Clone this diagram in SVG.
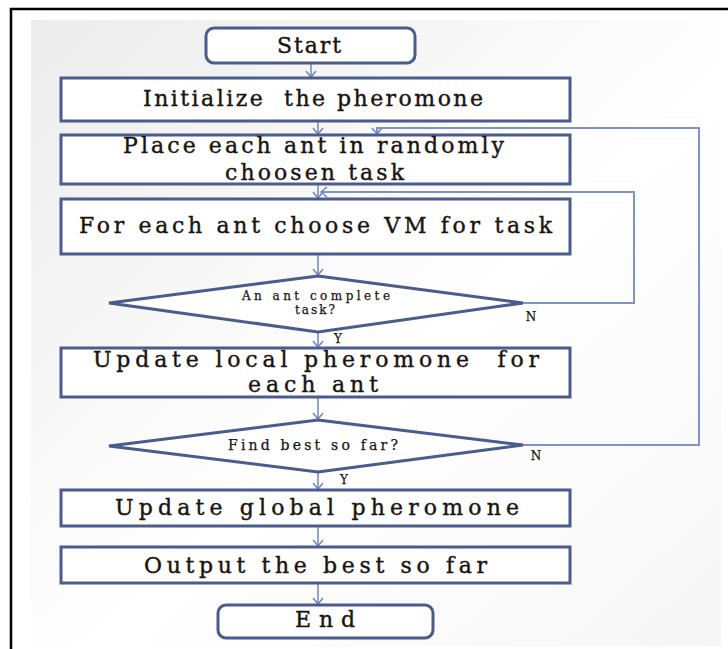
<svg xmlns="http://www.w3.org/2000/svg" width="728" height="649" viewBox="0 0 728 649">
<defs>
<linearGradient id="bg" x1="0" y1="0" x2="1" y2="1">
<stop offset="0" stop-color="#ececec"/>
<stop offset="0.55" stop-color="#ffffff"/>
<stop offset="1" stop-color="#f6f6f6"/>
</linearGradient>
<marker id="ah" viewBox="-8 -6 10 12" refX="0" refY="0" markerWidth="10" markerHeight="12" markerUnits="userSpaceOnUse" orient="auto">
<path d="M-6,-5 L0,0 L-6,5" fill="none" stroke="#6f86c0" stroke-width="1.5"/>
</marker>
<style>
.box{fill:#ffffff;stroke:#4a5b8e;stroke-width:3}
.c{fill:none;stroke:#6f86c0;stroke-width:1.5}
.lp{fill:none;stroke:#7f93c8;stroke-width:2}
</style>
</defs>
<rect x="0" y="0" width="728" height="649" fill="#ffffff"/>
<rect x="11" y="9" width="740" height="660" fill="none" stroke="#000000" stroke-width="2.5"/>
<rect x="31" y="20" width="690" height="626" fill="url(#bg)"/>

<g id="connectors">
<line class="c" x1="311" y1="63" x2="311" y2="77" marker-end="url(#ah)"/>
<line class="c" x1="318" y1="121" x2="318" y2="134" marker-end="url(#ah)"/>
<line class="c" x1="318" y1="184" x2="318" y2="198" marker-end="url(#ah)"/>
<line class="c" x1="318" y1="254" x2="318" y2="275" marker-end="url(#ah)"/>
<line class="c" x1="318" y1="332" x2="318" y2="347" marker-end="url(#ah)"/>
<line class="c" x1="318" y1="397" x2="318" y2="419" marker-end="url(#ah)"/>
<line class="c" x1="318" y1="472" x2="318" y2="489" marker-end="url(#ah)"/>
<line class="c" x1="318" y1="526" x2="318" y2="546" marker-end="url(#ah)"/>
<line class="c" x1="318" y1="583" x2="318" y2="604" marker-end="url(#ah)"/>
<polyline class="lp" points="523,303 634,303 634,192 321,192" marker-end="url(#ah)"/>
<polyline class="lp" points="523,445 699,445 699,128 377,128 377,134" marker-end="url(#ah)"/>
</g>

<g font-family="DejaVu Serif, Liberation Serif, serif" fill="#1a1410" stroke="#1a1410" stroke-width="0.4" text-anchor="middle" font-size="22">
<g id="start">
<rect x="206" y="28" width="209" height="35" rx="8" class="box"/>
<text x="309" y="53" textLength="64">Start</text>
</g>
<g id="init">
<rect x="61" y="78" width="509" height="43" class="box"/>
<text x="313" y="106" textLength="340" xml:space="preserve">Initialize  the pheromone</text>
</g>
<g id="place">
<rect x="61" y="135" width="509" height="49" class="box"/>
<text x="313.5" y="153" textLength="381">Place each ant in randomly</text>
<text x="314.5" y="180" textLength="179">choosen task</text>
</g>
<g id="choose">
<rect x="61" y="199" width="509" height="55" class="box"/>
<text x="315.5" y="233" textLength="473">For each ant choose VM for task</text>
</g>
<g id="decision1" font-size="12" stroke-width="0.25">
<polygon points="318,276 523,303 318,332 109,303" class="box"/>
<text x="316" y="300" textLength="148">An ant complete</text>
<text x="315" y="314" textLength="40">task?</text>
<text x="531" y="321">N</text>
<text x="338" y="343">Y</text>
</g>
<g id="local">
<rect x="61" y="348" width="509" height="49" class="box"/>
<text x="316" y="367" textLength="446" xml:space="preserve">Update local pheromone  for</text>
<text x="313" y="392" textLength="130">each ant</text>
</g>
<g id="decision2" font-size="14" stroke-width="0.25">
<polygon points="318,420 523,445 318,472 109,446" class="box"/>
<text x="313" y="450" textLength="170">Find best so far?</text>
<text x="536" y="460" font-size="12">N</text>
<text x="344" y="484" font-size="12">Y</text>
</g>
<g id="global">
<rect x="61" y="490" width="509" height="36" class="box"/>
<text x="317" y="515" textLength="404">Update global pheromone</text>
</g>
<g id="output">
<rect x="61" y="547" width="509" height="36" class="box"/>
<text x="315.5" y="573" textLength="343">Output the best so far</text>
</g>
<g id="end">
<rect x="218" y="605" width="215" height="33" rx="8" class="box"/>
<text x="325" y="627" textLength="60">End</text>
</g>
</g>
</svg>
